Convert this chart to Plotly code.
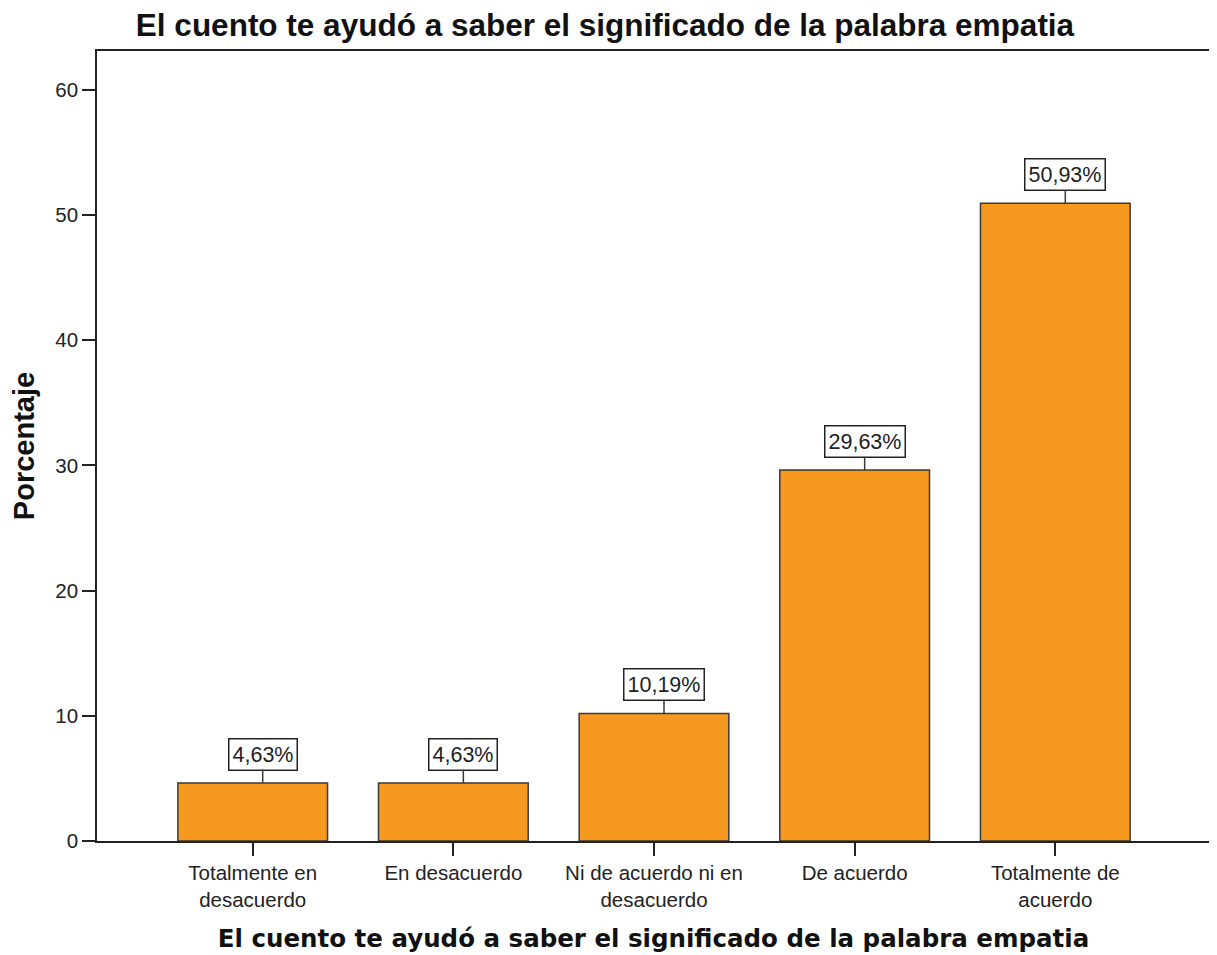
import plotly.graph_objects as go

categories = [
    "Totalmente en<br>desacuerdo",
    "En desacuerdo",
    "Ni de acuerdo ni en<br>desacuerdo",
    "De acuerdo",
    "Totalmente de<br>acuerdo",
]
percentages = [4.63, 4.63, 10.19, 29.63, 50.93]
labels = ["4,63%", "4,63%", "10,19%", "29,63%", "50,93%"]

title_text = "El cuento te ayudó a saber el significado de la palabra empatia"
positions = list(range(len(categories)))

# the page body adds an 8px offset, so the figure is a little smaller
W, H = 1209, 947

fig = go.Figure()
fig.add_trace(
    go.Bar(
        x=positions,
        y=percentages,
        width=0.746,
        marker=dict(color="#F7981F", line=dict(color="#3a3a3a", width=1.5)),
        hoverinfo="skip",
    )
)

for xi, yi, lab in zip(positions, percentages, labels):
    fig.add_annotation(
        x=xi,
        y=yi,
        text=lab,
        showarrow=True,
        arrowhead=0,
        arrowwidth=1.5,
        arrowcolor="#3a3a3a",
        standoff=0,
        ax=0,
        ay=-29,
        xshift=10,
        bgcolor="white",
        bordercolor="#222222",
        borderwidth=1.5,
        borderpad=3,
        font=dict(family="Liberation Sans, Arial", size=21.5, color="#222222"),
    )

fig.update_layout(
    width=W,
    height=H,
    paper_bgcolor="white",
    plot_bgcolor="white",
    showlegend=False,
    margin=dict(l=89, r=5, t=43, b=114),
    title=dict(
        text=title_text,
        font=dict(family="Liberation Sans, Arial", size=31.5, color="#111111", weight="bold"),
        x=597 / W,
        xanchor="center",
        xref="container",
        y=1 - 17 / H,
        yanchor="middle",
        yref="container",
    ),
    xaxis=dict(
        range=[-0.776, 4.771],
        tickvals=positions,
        ticktext=categories,
        ticks="outside",
        ticklen=13,
        tickwidth=1.5,
        tickcolor="#222222",
        showline=True,
        linecolor="#222222",
        linewidth=1.5,
        mirror=True,
        showgrid=False,
        zeroline=False,
        tickfont=dict(family="Liberation Sans, Arial", size=20.5, color="#222222"),
        title=dict(
            text=title_text,
            font=dict(family="DejaVu Sans", size=24.5, color="#111111", weight="bold"),
            standoff=20,
        ),
    ),
    yaxis=dict(
        range=[0, 63.1],
        tickvals=[0, 10, 20, 30, 40, 50, 60],
        ticks="outside",
        ticklen=13,
        tickwidth=1.5,
        tickcolor="#222222",
        showline=True,
        linecolor="#222222",
        linewidth=1.5,
        mirror=True,
        showgrid=False,
        zeroline=False,
        tickfont=dict(family="Liberation Sans, Arial", size=20.5, color="#222222"),
        title=dict(
            text="Porcentaje",
            font=dict(family="Liberation Sans, Arial", size=29, color="#111111", weight="bold"),
            standoff=18,
        ),
    ),
)

fig.write_html("out.html")
